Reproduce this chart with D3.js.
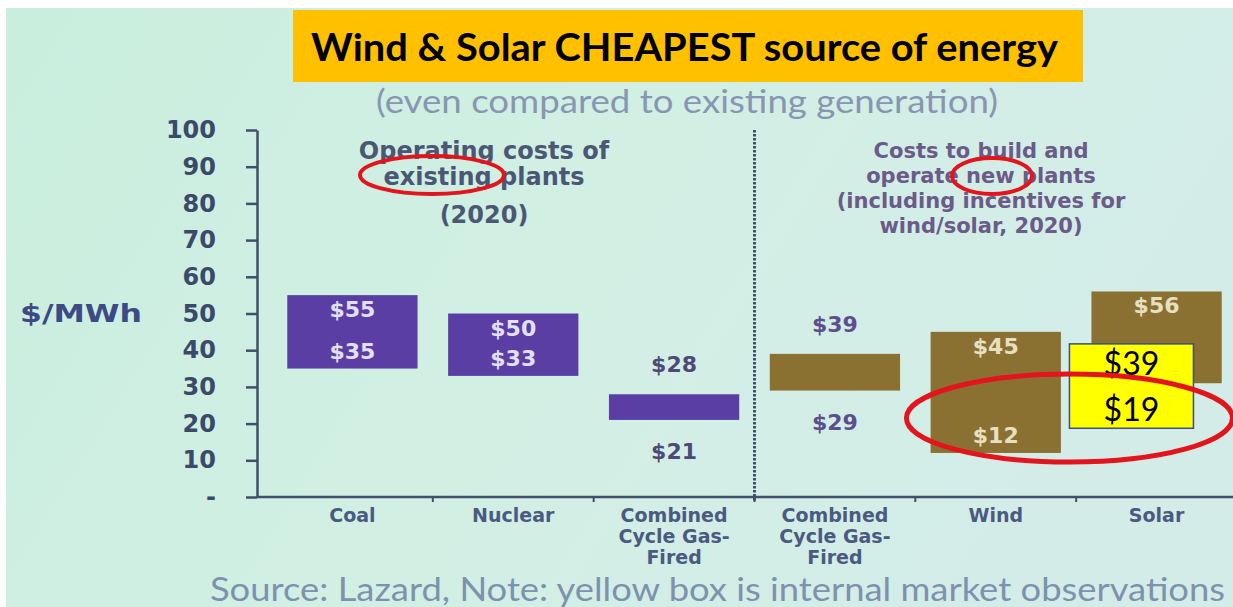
<!DOCTYPE html>
<html>
<head>
<meta charset="utf-8">
<script src="https://cdn.jsdelivr.net/npm/d3@7"></script>
<style>
body { margin: 0; background: #fff; }
svg { display: block; }
</style>
</head>
<body>
<div id="canvas"></div>
<script>
// ----------------------------------------------------------
// DATA -----------------------------------------------------
// ----------------------------------------------------------

var categories = ["Coal", "Nuclear", "CCGT existing", "CCGT new", "Wind", "Solar"];
var category_lines = [
  ["Coal"],
  ["Nuclear"],
  ["Combined", "Cycle Gas-", "Fired"],
  ["Combined", "Cycle Gas-", "Fired"],
  ["Wind"],
  ["Solar"]
];
var high_values = [55, 50, 28, 39, 45, 56];
var low_values = [35, 33, 21, 29, 12, 31];
var plant_group = ["existing", "existing", "existing", "new", "new", "new"];
var label_inside = [true, true, false, false, true, true];

var market_category = "Solar";
var market_values = [39, 19];

var y_ticks = [0, 10, 20, 30, 40, 50, 60, 70, 80, 90, 100];

var header_existing = ["Operating costs of", "existing plants", "(2020)"];
var header_new = ["Costs to build and", "operate new plants", "(including incentives for", "wind/solar, 2020)"];

// ----------------------------------------------------------
// STRUCTURE ------------------------------------------------
// ----------------------------------------------------------

var W = 1233, H = 607;
var axis_left = 257, axis_right = 1235;
var band_left = 272, band_right = 1237;
var chart_top = 130, chart_bottom = 497;

var font_chart = "'DejaVu Sans', Verdana, sans-serif";
var font_slide = "Lato, 'Open Sans', sans-serif";

var colors = {
  existing: "#5b3ea3",
  new: "#8b7131",
  axis: "#3f4f6c",
  tick_text: "#3b4a69",
  cat_text: "#4a5a80",
  head_left: "#4b5874",
  head_right: "#6a5b88",
  red: "#e3141c"
};

var svg = d3.select("#canvas").append("svg")
  .attr("width", W)
  .attr("height", H);

var defs = svg.append("defs");
var grad = defs.append("linearGradient").attr("id", "bg").attr("x1", 0).attr("x2", 1).attr("y1", 0).attr("y2", 0.3);
grad.append("stop").attr("offset", "0%").attr("stop-color", "#c9eede");
grad.append("stop").attr("offset", "55%").attr("stop-color", "#d2efe4");
grad.append("stop").attr("offset", "100%").attr("stop-color", "#d3ece8");

svg.append("rect")
  .attr("x", 6).attr("y", 8)
  .attr("width", W - 6).attr("height", H - 8)
  .style("fill", "url(#bg)");

// scales
var x = d3.scaleBand()
  .domain(categories)
  .range([band_left, band_right])
  .paddingInner(0.19)
  .paddingOuter(0.095);

var y = d3.scaleLinear()
  .domain([0, 100])
  .range([chart_bottom, chart_top]);

var rows = categories.map(function (c, i) {
  return {
    cat: c,
    lines: category_lines[i],
    high: high_values[i],
    low: low_values[i],
    group: plant_group[i],
    inside: label_inside[i]
  };
});

// ----------------------------------------------------------
// TITLE ----------------------------------------------------
// ----------------------------------------------------------

svg.append("rect")
  .attr("x", 293).attr("y", 10)
  .attr("width", 790).attr("height", 72)
  .style("fill", "#ffc000");

svg.append("text")
  .attr("x", 311).attr("y", 61)
  .attr("textLength", 747)
  .attr("lengthAdjust", "spacingAndGlyphs")
  .style("font-family", font_slide)
  .style("font-weight", "bold")
  .style("font-size", "38px")
  .style("fill", "#000")
  .text("Wind & Solar CHEAPEST source of energy");

svg.append("text")
  .attr("x", 376).attr("y", 113)
  .attr("textLength", 622)
  .attr("lengthAdjust", "spacingAndGlyphs")
  .style("font-family", font_slide)
  .style("font-size", "32px")
  .style("fill", "#8797b2")
  .text("(even compared to existing generation)");

// ----------------------------------------------------------
// AXES -----------------------------------------------------
// ----------------------------------------------------------

var y_axis = svg.append("g")
  .attr("transform", "translate(" + axis_left + ",0)")
  .call(d3.axisLeft(y)
    .tickValues(y_ticks)
    .tickSize(11)
    .tickSizeOuter(0)
    .tickPadding(30)
    .tickFormat(function (d) { return d === 0 ? "-" : d; }));

y_axis.select(".domain").style("stroke", colors.axis).style("stroke-width", 2.5);
y_axis.selectAll(".tick line").style("stroke", colors.axis).style("stroke-width", 2.5);
y_axis.selectAll(".tick text")
  .style("font-family", font_chart)
  .style("font-weight", "bold")
  .style("font-size", "24px")
  .style("fill", colors.tick_text);

svg.append("text")
  .attr("x", 20).attr("y", 322)
  .attr("textLength", 122)
  .attr("lengthAdjust", "spacingAndGlyphs")
  .style("font-family", font_chart)
  .style("font-weight", "bold")
  .style("font-size", "24px")
  .style("fill", "#3d4a86")
  .text("$/MWh");

// x baseline with ticks between bands
var step = x.step();
var boundaries = categories.slice(1).map(function (c) { return x(c) - step * x.paddingInner() / 2; });

svg.append("line")
  .attr("x1", axis_left).attr("x2", axis_right)
  .attr("y1", y(0)).attr("y2", y(0))
  .style("stroke", colors.axis).style("stroke-width", 2.5);

svg.selectAll(".x_tick")
  .data(boundaries)
  .enter().append("line")
  .attr("class", "x_tick")
  .attr("x1", function (d) { return d; }).attr("x2", function (d) { return d; })
  .attr("y1", y(0)).attr("y2", y(0) + 5)
  .style("stroke", colors.axis).style("stroke-width", 2);

// divider between existing and new
var divider_x = x("CCGT new") - step * x.paddingInner() / 2;
svg.append("line")
  .attr("x1", divider_x).attr("x2", divider_x)
  .attr("y1", y(100)).attr("y2", y(0) + 4)
  .style("stroke", colors.axis)
  .style("stroke-width", 3)
  .style("stroke-dasharray", "2.5,1.5");

// category labels
var cat_labels = svg.selectAll(".cat_label")
  .data(rows)
  .enter().append("text")
  .attr("class", "cat_label")
  .attr("text-anchor", "middle")
  .attr("y", 522)
  .style("font-family", font_chart)
  .style("font-weight", "bold")
  .style("font-size", "19px")
  .style("fill", colors.cat_text);

cat_labels.selectAll("tspan")
  .data(function (d) { return d.lines.map(function (l) { return { line: l, cat: d.cat }; }); })
  .enter().append("tspan")
  .attr("x", function (d) { return x(d.cat) + x.bandwidth() / 2; })
  .attr("dy", function (d, i) { return i === 0 ? 0 : 21; })
  .text(function (d) { return d.line; });

// ----------------------------------------------------------
// HEADERS --------------------------------------------------
// ----------------------------------------------------------

svg.selectAll(".head_left")
  .data(header_existing)
  .enter().append("text")
  .attr("class", "head_left")
  .attr("x", 484)
  .attr("y", function (d, i) { return [159, 185, 223][i]; })
  .attr("text-anchor", "middle")
  .style("font-family", font_chart)
  .style("font-weight", "bold")
  .style("font-size", "24px")
  .style("fill", colors.head_left)
  .text(function (d) { return d; });

svg.selectAll(".head_right")
  .data(header_new)
  .enter().append("text")
  .attr("class", "head_right")
  .attr("x", 981)
  .attr("y", function (d, i) { return 158 + i * 25; })
  .attr("text-anchor", "middle")
  .style("font-family", font_chart)
  .style("font-weight", "bold")
  .style("font-size", "21px")
  .style("fill", colors.head_right)
  .text(function (d) { return d; });

// ----------------------------------------------------------
// BARS -----------------------------------------------------
// ----------------------------------------------------------

var bars = svg.selectAll(".bar")
  .data(rows)
  .enter().append("g")
  .attr("class", "bar");

bars.append("rect")
  .attr("x", function (d) { return x(d.cat); })
  .attr("y", function (d) { return y(d.high); })
  .attr("width", x.bandwidth())
  .attr("height", function (d) { return y(d.low) - y(d.high); })
  .style("fill", function (d) { return colors[d.group]; });

var label_style = function (sel) {
  sel.attr("text-anchor", "middle")
    .attr("x", function (d) { return x(d.cat) + x.bandwidth() / 2; })
    .style("font-family", font_chart)
    .style("font-weight", "bold")
    .style("font-size", "22px")
    .style("fill", function (d) {
      if (d.inside) return d.group === "existing" ? "#e2e0f2" : "#e6e0c2";
      return d.group === "existing" ? "#4e4a78" : "#5c4f8c";
    });
};

bars.append("text")
  .call(label_style)
  .attr("y", function (d) { return d.inside ? y(d.high) + 22 : y(d.high) - 22; })
  .text(function (d) { return "$" + d.high; });

// the solar low label sits behind the market box in the slide
bars.filter(function (d) { return d.cat !== market_category; })
  .append("text")
  .call(label_style)
  .attr("y", function (d) { return d.inside ? y(d.low) - 10 : y(d.low) + 39; })
  .text(function (d) { return "$" + d.low; });

// ----------------------------------------------------------
// MARKET OBSERVATION BOX ----------------------------------
// ----------------------------------------------------------

var box_x = x(market_category) - 22;
var box_w = 124;
var box_top = y(market_values[0]) - 10;
var box_bottom = y(market_values[1]) + 1;

svg.append("rect")
  .attr("x", box_x).attr("y", box_top)
  .attr("width", box_w).attr("height", box_bottom - box_top)
  .style("fill", "#ffff00")
  .style("stroke", "#3a5080")
  .style("stroke-width", 1.5);

svg.selectAll(".market_label")
  .data(market_values)
  .enter().append("text")
  .attr("class", "market_label")
  .attr("x", box_x + box_w / 2)
  .attr("y", function (d, i) { return box_top + 31 + i * 46; })
  .attr("text-anchor", "middle")
  .style("font-family", font_slide)
  .style("font-size", "32px")
  .style("fill", "#000")
  .text(function (d) { return "$" + d; });

// ----------------------------------------------------------
// ANNOTATIONS ----------------------------------------------
// ----------------------------------------------------------

var ellipses = [
  { cx: 432, cy: 175, rx: 72, ry: 19, w: 4 },
  { cx: 992, cy: 176, rx: 40, ry: 18, w: 4 },
  { cx: x("Solar") - 22, cy: y(21.5), rx: 163, ry: 44, w: 5 }
];

svg.selectAll(".ring")
  .data(ellipses)
  .enter().append("ellipse")
  .attr("class", "ring")
  .attr("cx", function (d) { return d.cx; })
  .attr("cy", function (d) { return d.cy; })
  .attr("rx", function (d) { return d.rx; })
  .attr("ry", function (d) { return d.ry; })
  .style("fill", "none")
  .style("stroke", colors.red)
  .style("stroke-width", function (d) { return d.w; });

// ----------------------------------------------------------
// SOURCE ---------------------------------------------------
// ----------------------------------------------------------

svg.append("text")
  .attr("x", 210).attr("y", 601)
  .attr("textLength", 1015)
  .attr("lengthAdjust", "spacingAndGlyphs")
  .style("font-family", font_slide)
  .style("font-size", "32px")
  .style("fill", "#7d92ad")
  .text("Source: Lazard, Note: yellow box is internal market observations");
</script>
</body>
</html>
